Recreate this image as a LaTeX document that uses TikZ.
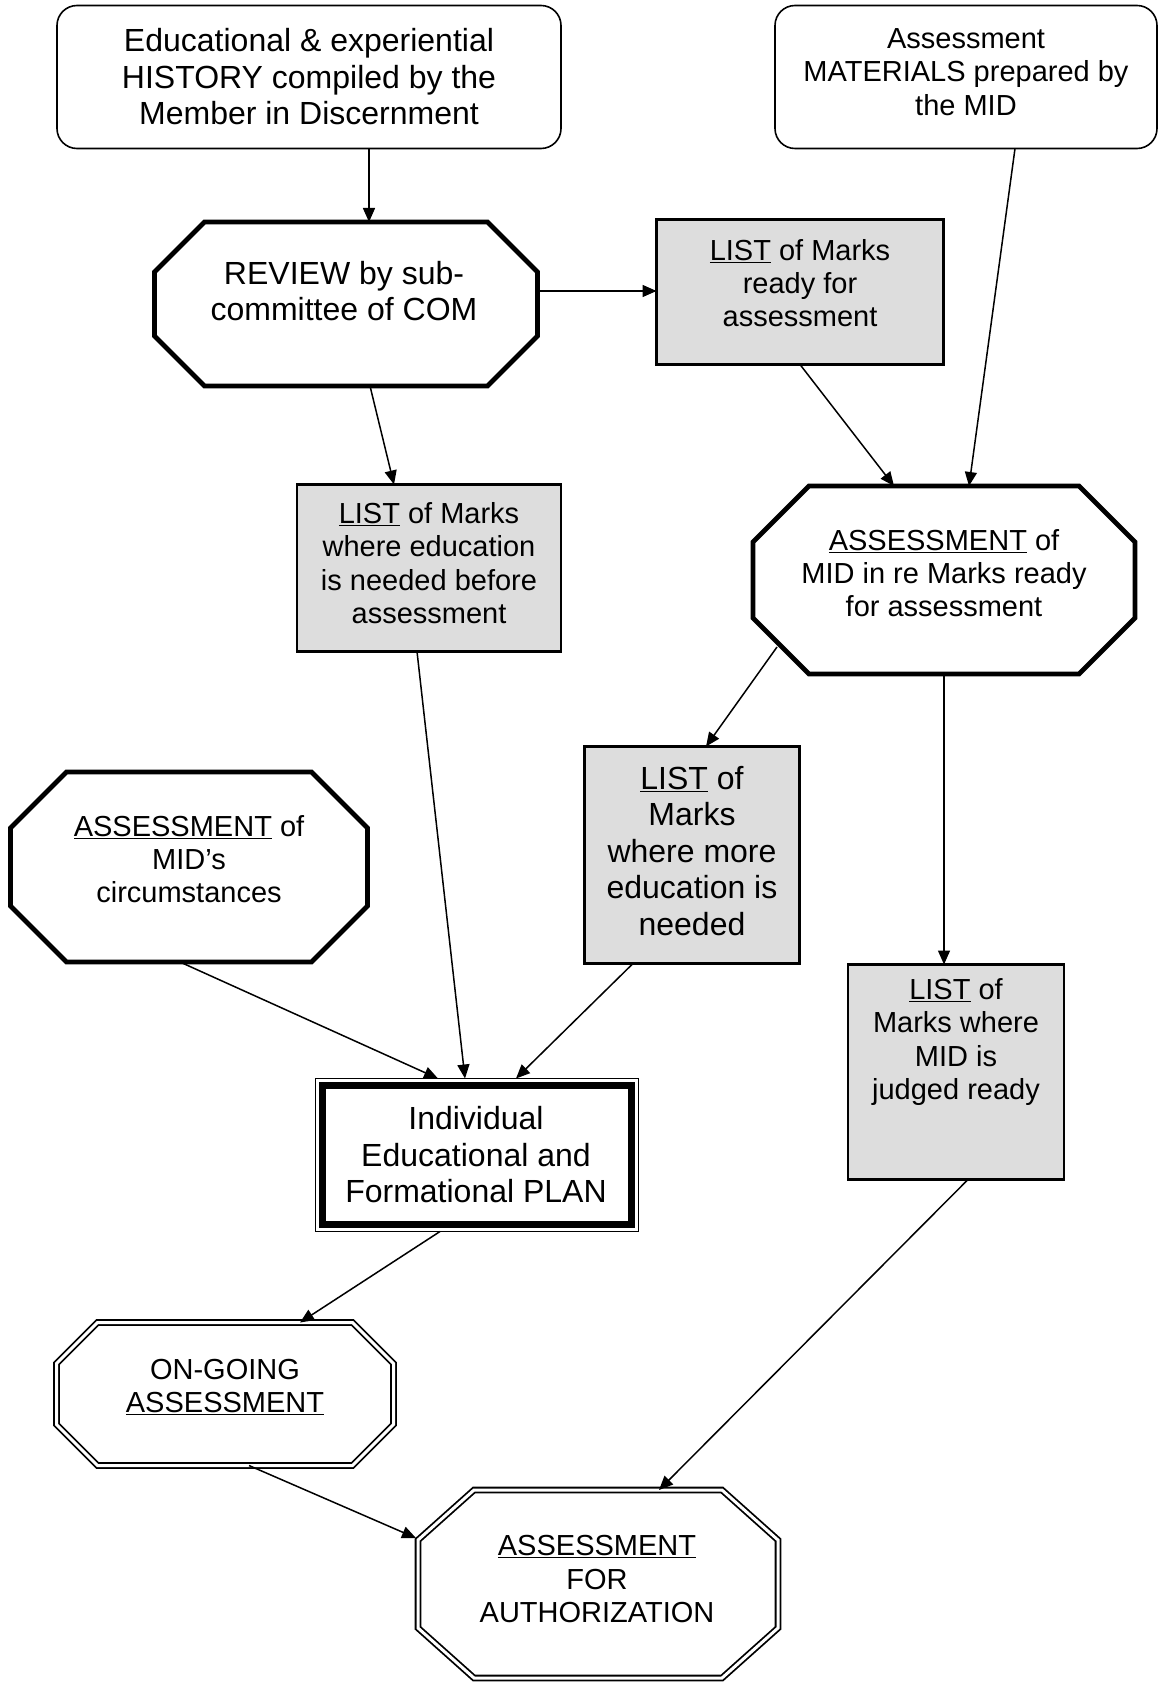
\documentclass[tikz,border=0pt]{standalone}
\usepackage{fontspec}
\setmainfont{Liberation Sans}
\usetikzlibrary{arrows.meta,calc}
\definecolor{boxgray}{HTML}{DDDDDD}
\newcommand\octpath[4]{%
  \draw[#1] ([xshift=#3]#2.north west) -- ([xshift=-#3]#2.north east) -- ([yshift=-#4]#2.north east) -- ([yshift=#4]#2.south east) -- ([xshift=-#3]#2.south east) -- ([xshift=#3]#2.south west) -- ([yshift=#4]#2.south west) -- ([yshift=-#4]#2.north west) -- cycle;}
\begin{document}
\begin{tikzpicture}[x=1pt,y=-1pt,
  txts/.style={font=\fontsize{29}{33.3}\selectfont, align=center, inner sep=0pt},
  txtl/.style={font=\fontsize{32}{36.5}\selectfont, align=center, inner sep=0pt},
  frame/.style={draw=none, inner sep=0pt, outer sep=0pt},
  roundbox/.style={draw, line width=1.6pt, rounded corners=20pt, inner sep=0pt, outer sep=0pt},
  graybox/.style={draw, fill=boxgray, line width=2.2pt, inner sep=0pt, outer sep=0pt},
  plainbox/.style={draw, line width=1.5pt, inner sep=0pt, outer sep=0pt},
  thickoct/.style={draw, line width=4.8pt, line join=miter},
  dbloct/.style={draw, double, double distance=3pt, line width=1.8pt, line join=miter},
  arr/.style={line width=1.5pt, -{Triangle[length=14pt,width=12pt]}}
]
\useasboundingbox (0,0) rectangle (1159,1685);

% --- shapes ---
\node[roundbox, minimum width=504pt, minimum height=143pt] (hist) at (309,77) {};
\node[roundbox, minimum width=382pt, minimum height=143pt] (mat) at (966,77) {};
\node[frame, minimum width=383pt, minimum height=164pt] (review) at (346,304) {};
\octpath{thickoct}{review}{50pt}{50pt}
\node[graybox, minimum width=287pt, minimum height=145pt] (list1) at (800,292) {};
\node[graybox, minimum width=264pt, minimum height=167pt] (list2) at (429,568) {};
\node[frame, minimum width=382pt, minimum height=188pt] (assess1) at (944,580) {};
\octpath{thickoct}{assess1}{56pt}{56pt}
\node[frame, minimum width=357pt, minimum height=190pt] (circ) at (189,867) {};
\octpath{thickoct}{circ}{56pt}{56pt}
\node[graybox, minimum width=215pt, minimum height=217pt] (list3) at (692,855) {};
\node[graybox, minimum width=216pt, minimum height=215pt] (list4) at (956,1072) {};
\node[plainbox, minimum width=323pt, minimum height=153pt] (plan) at (477,1155) {};
\draw[line width=6.5pt] ([shift={(7pt,-7pt)}]plan.north west) rectangle ([shift={(-7pt,7pt)}]plan.south east);
\node[frame, minimum width=337pt, minimum height=143pt] (ongoing) at (225,1394) {};
\octpath{dbloct}{ongoing}{41pt}{41pt}
\node[frame, minimum width=360pt, minimum height=188pt] (auth) at (598,1584) {};
\octpath{dbloct}{auth}{56pt}{50pt}

% --- texts ---
\node[txtl] (thist) at (309,77) {Educational \& experiential\\HISTORY compiled by the\\Member in Discernment};
\node[txts] (tmat) at (966,72) {Assessment\\MATERIALS prepared by\\the MID};
\node[txtl] (treview) at (344,291) {REVIEW by sub-\\committee of COM};
\node[txts] (tlist1) at (800,283) {\underline{LIST} of Marks\\ready for\\assessment};
\node[txts] (tlist2) at (429,563) {\underline{LIST} of Marks\\where education\\is needed before\\assessment};
\node[txts] (tassess1) at (944,573) {\underline{ASSESSMENT} of\\MID in re Marks ready\\for assessment};
\node[txts] (tcirc) at (189,859) {\underline{ASSESSMENT} of\\MID’s\\circumstances};
\node[txtl] (tlist3) at (692,851) {\underline{LIST} of\\Marks\\where more\\education is\\needed};
\node[txts] (tlist4) at (956,1042) {\underline{LIST} of\\Marks where\\MID is\\judged ready};
\node[txtl] (tplan) at (476,1155) {Individual\\Educational and\\Formational PLAN};
\node[txts] (tongoing) at (225,1387) {ON-GOING\\\underline{ASSESSMENT}};
\node[txts] (tauth) at (597,1579) {\underline{ASSESSMENT}\\FOR\\AUTHORIZATION};

% --- connectors ---
\draw[arr] ([xshift=60pt]hist.south) -- ([xshift=23pt]review.north);
\draw[arr] ([yshift=13pt]review.east) -- ([yshift=1pt]list1.west);
\draw[arr] ([xshift=24pt]review.south) -- ([xshift=-35pt]list2.north);
\draw[arr] (list1.south) -- ([xshift=-50pt]assess1.north);
\draw[arr] ([xshift=49pt]mat.south) -- ([xshift=25pt]assess1.north);
\draw[arr] ([shift={(-167pt,-67pt)}]assess1.center) -- ([xshift=14pt]list3.north);
\draw[arr] (assess1.south) -- ([xshift=-12pt]list4.north);
\draw[arr] ([xshift=-9pt]circ.south) -- ([xshift=-39pt]plan.north);
\draw[arr] ([xshift=-12pt]list2.south) -- ([xshift=-12pt]plan.north);
\draw[arr] ([xshift=-59pt]list3.south) -- ([xshift=39pt]plan.north);
\draw[arr] ([xshift=-37pt]plan.south) -- ([xshift=75pt]ongoing.north);
\draw[arr] ([xshift=24pt]ongoing.south) -- ([shift={(-182pt,46pt)}]auth.center);
\draw[arr] ([xshift=12pt]list4.south) -- ([xshift=61pt]auth.north);
\end{tikzpicture}
\end{document}
